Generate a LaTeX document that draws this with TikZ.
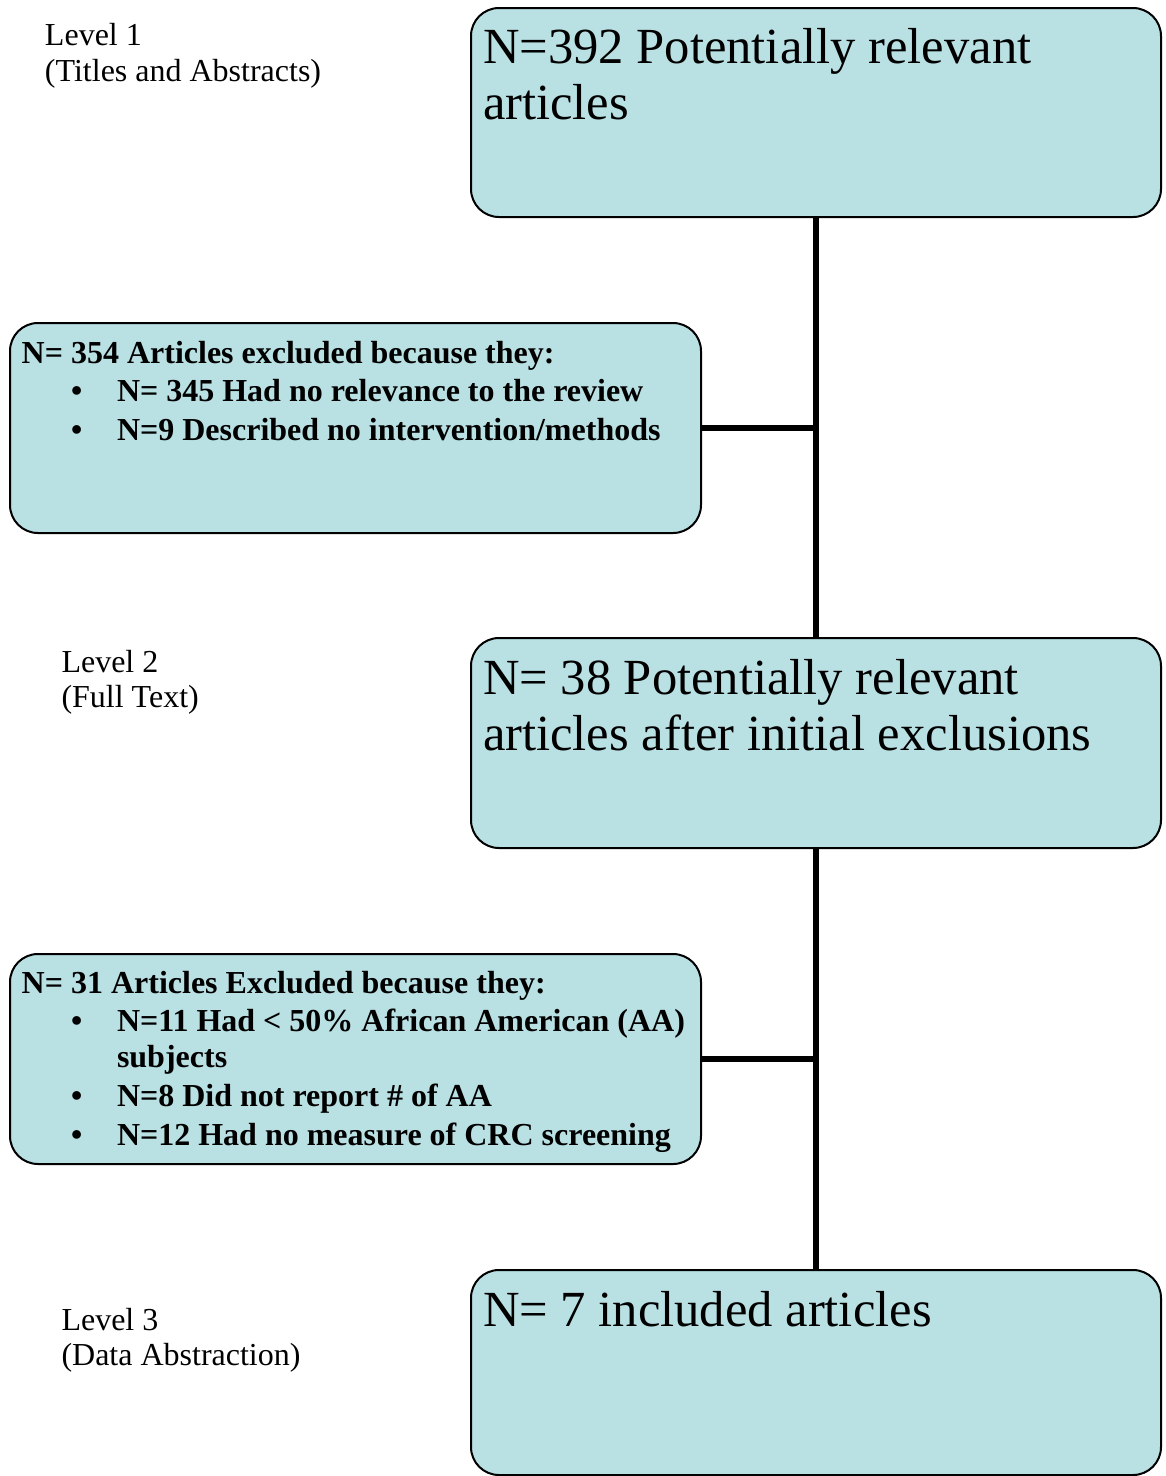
\documentclass[tikz,border=0pt]{standalone}
\usepackage{fontspec}
\setmainfont{Liberation Serif}
\definecolor{boxfill}{RGB}{185,224,227}
\tikzset{
  box/.style={draw=black, line width=2pt, fill=boxfill, rounded corners=28pt,
    inner sep=0pt, outer sep=0pt},
  conn/.style={draw=black, line width=6pt},
  txt/.style={anchor=base west, inner sep=0pt, outer sep=0pt},
  lvl/.style={txt, font=\fontsize{32}{36}\selectfont, align=left},
  big/.style={txt, font=\fontsize{50.6}{56}\selectfont},
  bld/.style={txt, font=\fontsize{32}{36}\selectfont\bfseries},
}
\begin{document}
\begin{tikzpicture}[x=1pt,y=-1pt]
\useasboundingbox (0,0) rectangle (1166,1476);
% boxes
\node[box, minimum width=690pt, minimum height=209pt] (b1) at (816,112.5) {};
\node[box, minimum width=691pt, minimum height=210pt] (b2) at (355.5,428) {};
\node[box, minimum width=690pt, minimum height=210pt] (b3) at (816,743) {};
\node[box, minimum width=691pt, minimum height=210pt] (b4) at (355.5,1059) {};
\node[box, minimum width=690pt, minimum height=205pt] (b5) at (816,1372.5) {};
% connectors
\draw[conn] (b1.south) -- (b3.north);
\draw[conn] (b3.south) -- (b5.north);
\draw[conn] (b2.east) -- (b2.east -| b1.south);
\draw[conn] (b4.east) -- (b4.east -| b3.south);
% level labels
\node[lvl] (l1a) at (45,45) {Level 1};
\node[lvl] (l1b) at (45,81) {(Titles and Abstracts)};
\node[lvl] (l2a) at (61.5,672) {Level 2};
\node[lvl] (l2b) at (61.5,707) {(Full Text)};
\node[lvl] (l3a) at (61.5,1330) {Level 3};
\node[lvl] (l3b) at (61.5,1365) {(Data Abstraction)};
% big box texts
\node[big] (t1a) at (483,63.5) {N=392 Potentially relevant};
\node[big] (t1b) at (483,119.5) {articles};
\node[big] (t3a) at (483,694) {N= 38 Potentially relevant};
\node[big] (t3b) at (483,750) {articles after initial exclusions};
\node[big] (t5a) at (483,1326) {N= 7 included articles};
% exclusion box 1
\node[bld] (e1h) at (21.7,363) {N= 354 Articles excluded because they:};
\node[bld] (e1p1) at (71,401.5) {\textbullet};
\node[bld] (e1i1) at (117,401.5) {N= 345 Had no relevance to the review};
\node[bld] (e1p2) at (71,440) {\textbullet};
\node[bld] (e1i2) at (117,440) {N=9 Described no intervention/methods};
% exclusion box 2
\node[bld] (e2h) at (21.7,993) {N= 31 Articles Excluded because they:};
\node[bld] (e2p1) at (71,1031.5) {\textbullet};
\node[bld] (e2i1) at (117,1031.5) {N=11 Had < 50\% African American (AA)};
\node[bld] (e2i1b) at (117,1067.5) {subjects};
\node[bld] (e2p2) at (71,1106.5) {\textbullet};
\node[bld] (e2i2) at (117,1106.5) {N=8 Did not report \# of AA};
\node[bld] (e2p3) at (71,1145) {\textbullet};
\node[bld] (e2i3) at (117,1145) {N=12 Had no measure of CRC screening};
\end{tikzpicture}
\end{document}
